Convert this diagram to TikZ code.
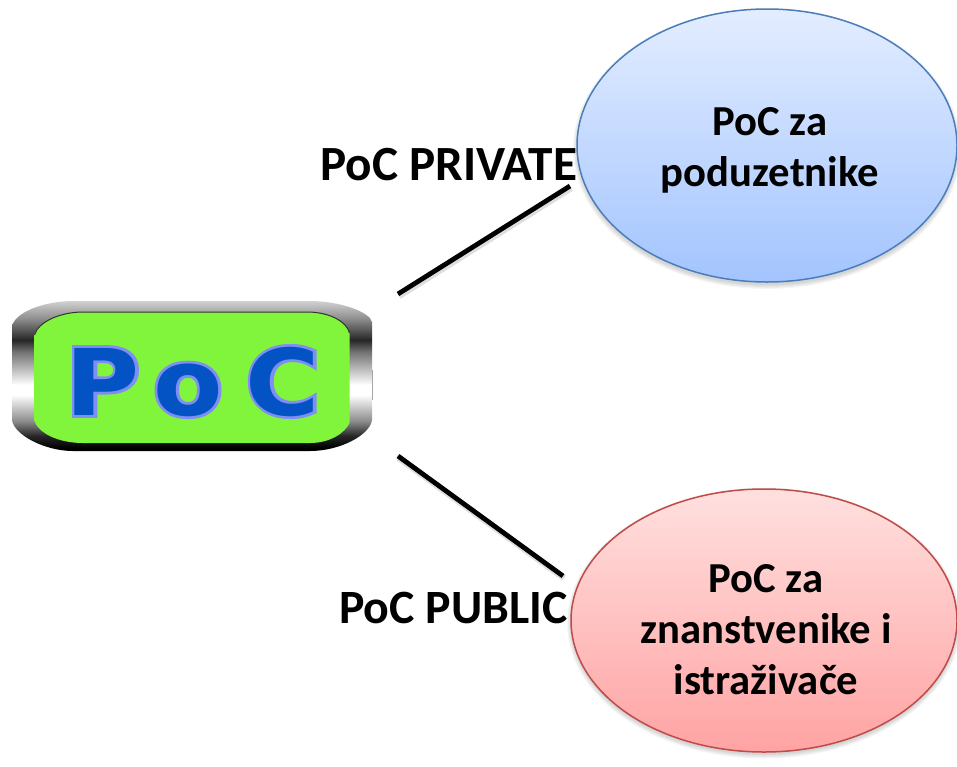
\documentclass[tikz,border=0pt]{standalone}
\usepackage{fontspec}
\setmainfont{Carlito}[BoldFont=Carlito Bold]
\newfontfamily\logofont{DejaVu Sans Bold}
\newfontfamily\logoedge[RawFeature={embolden=6}]{DejaVu Sans Bold}
\usetikzlibrary{shapes.geometric,fadings}
\definecolor{linkblack}{HTML}{000000}
\definecolor{blueedge}{HTML}{4A7EBB}
\definecolor{rededge}{HTML}{BE4B48}
\definecolor{bluetop}{HTML}{E3EDFF}
\definecolor{bluebot}{HTML}{A3C4FF}
\definecolor{redtop}{HTML}{FFE0DF}
\definecolor{redbot}{HTML}{FFA3A3}
\definecolor{screen}{HTML}{80F53B}
\definecolor{logoblue}{HTML}{0353C4}
\definecolor{logorim}{HTML}{7F8DF5}
\pgfdeclareverticalshading{metal}{100bp}{
 color(0bp)=(black); color(26bp)=(black); color(30bp)=(black!85); color(35bp)=(black!45);
 color(43.7bp)=(white); color(47bp)=(white); color(58bp)=(black!55); color(62bp)=(black!85);
 color(69bp)=(black!45); color(75bp)=(black!18); color(100bp)=(black!18)}
\tikzset{
 x=1pt,y=-1pt,
 bubble/.style={ellipse,inner sep=0pt,outer sep=0pt,line width=1.5pt},
 label/.style={inner sep=0pt,text=black},
 bubbletext/.style={inner sep=0pt,align=center,font=\bfseries\fontsize{42.7}{51}\selectfont,text=black},
 link/.style={draw=linkblack,line width=4.8pt},
 linkshade/.style={draw=black,line width=6.5pt,opacity=0.13},
 halo/.style={ellipse,inner sep=0pt,fill=black,opacity=0.035},
 logoletter/.style={inner sep=0pt,text=logoblue,font=\logofont\fontsize{92}{92}\selectfont,xscale=1.1,transform shape},
 logoback/.style={inner sep=0pt,text=logorim,font=\logoedge\fontsize{92}{92}\selectfont,xscale=1.1,transform shape}
}
\begin{document}
\begin{tikzpicture}
\useasboundingbox (0,0) rectangle (957,766);
% shadows
\foreach \g in {0,2,4,6,8}{
 \node[halo,minimum width={380pt+\g pt},minimum height={273pt+\g pt}] at (767,148.5) {};
 \node[halo,minimum width={386pt+\g pt},minimum height={263pt+\g pt}] at (764,623) {};
}
% badge
\path[shading=metal] (12,327) .. controls (14,312) and (45,301) .. (73,301) -- (310,301) .. controls (340,301) and (370,312) .. (372,322) -- (372,420) .. controls (370,435) and (340,451) .. (310,451) -- (73,451) .. controls (45,451) and (14,435) .. (12,420) -- cycle;
\draw[gray!70,line width=1pt] (372.5,370) -- (372.5,400);
\path[fill=screen] (34,335) .. controls (38,322) and (60,312) .. (83,312) -- (307,312) .. controls (330,312) and (347,322) .. (349.5,333) -- (349.5,423) .. controls (345,433) and (330,443) .. (310,443) -- (83,443) .. controls (58,443) and (38,433) .. (34,420) -- cycle;
\draw[black!80,line width=1pt] (34.5,335) .. controls (38,322) and (60,312) .. (83,312) -- (307,312) .. controls (330,312) and (347,322) .. (349.5,333);
\node[logoback,anchor=base] at (103,415) {P};
\node[logoback,anchor=base] at (188,415) {o};
\node[logoback,anchor=base] at (283,415) {C};
\node[logoletter,anchor=base] (logoP) at (103,415) {P};
\node[logoletter,anchor=base] (logoO) at (188,415) {o};
\node[logoletter,anchor=base] (logoC) at (283,415) {C};
% bubbles
\node[bubble,draw=blueedge,top color=bluetop,bottom color=bluebot,minimum width=380pt,minimum height=273pt] (priv) at (767,145.5) {};
\node[bubble,draw=rededge,top color=redtop,bottom color=redbot,minimum width=386pt,minimum height=263pt] (pub) at (764,620.5) {};
\node[bubbletext] (privtext) at (770,150) {PoC za\\poduzetnike};
\node[bubbletext] (pubtext) at (766,630) {PoC za\\znanstvenike i\\istraživače};
\node[label,anchor=west,font=\bfseries\fontsize{49.2}{56}\selectfont] (plabel) at (320,165) {PoC PRIVATE};
\node[label,anchor=west,font=\bfseries\fontsize{47.8}{56}\selectfont] (qlabel) at (339,608) {PoC PUBLIC};
% connectors
\coordinate (badgeA) at (398,294);
\coordinate (badgeB) at (398,456);
\coordinate (privEnd) at (570,186);
\coordinate (pubEnd) at (563,576);
\draw[linkshade,transform canvas={shift={(1pt,-2pt)}}] (badgeA) -- (privEnd);
\draw[linkshade,transform canvas={shift={(1pt,-2pt)}}] (badgeB) -- (pubEnd);
\draw[link] (badgeA) -- (privEnd);
\draw[link] (badgeB) -- (pubEnd);
\end{tikzpicture}
\end{document}
